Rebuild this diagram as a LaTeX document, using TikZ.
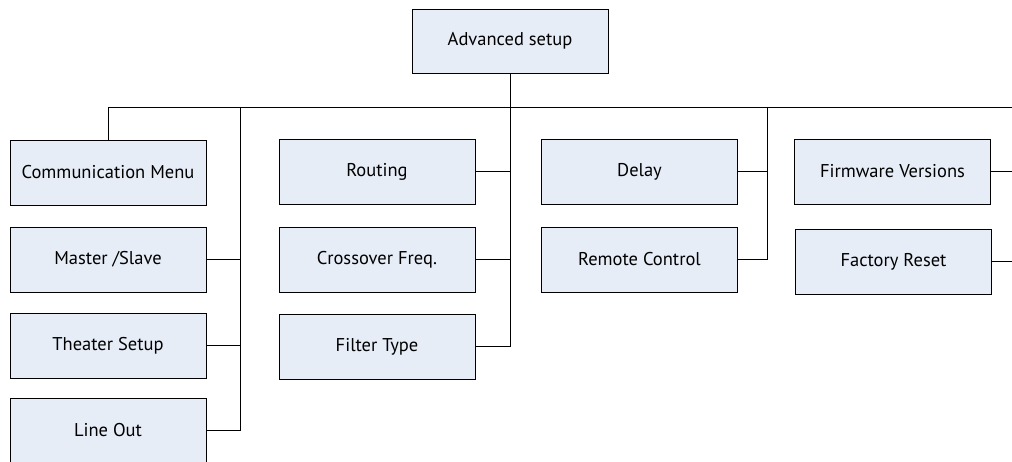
\documentclass[tikz,border=0pt]{standalone}
\usepackage{fontspec}
\setmainfont{PT Sans}
\usepackage{tikz}
\usetikzlibrary{positioning}
\definecolor{boxfill}{RGB}{230,237,247}

\begin{document}
\begin{tikzpicture}[x=1pt, y=-1pt]
		\tikzset{menubox/.style={shape = rectangle, draw, fill = boxfill, line width = 0.9pt,
				minimum width = 196pt, minimum height = 65pt, inner sep = 0pt, font = \fontsize{18.5}{22}\selectfont}}
		\tikzset{link/.style={line width = 0.9pt}}
		\clip (0, 0) rectangle (1012, 462);
		%vertices
		\node[menubox, minimum height = 64pt] (root) at (510, 41) {Advanced setup};
		\node[menubox] (comm) at (108, 172.5) {Communication Menu};
		\node[menubox] (master) at (108, 259.5) {Master /Slave};
		\node[menubox] (theater) at (108, 345.5) {Theater Setup};
		\node[menubox] (lineout) at (108, 430.5) {Line Out};
		\node[menubox] (routing) at (377, 171.5) {Routing};
		\node[menubox] (crossover) at (377, 259.5) {Crossover Freq.};
		\node[menubox] (filter) at (377, 346.5) {Filter Type};
		\node[menubox] (delay) at (639.5, 171.5) {Delay};
		\node[menubox] (remote) at (639.5, 259.5) {Remote Control};
		\node[menubox] (firmware) at (892.5, 171.5) {Firmware Versions};
		\node[menubox] (factory) at (893.5, 261.5) {Factory Reset};
		%bus
		\coordinate (busL) at (108, 107);
		\coordinate (busR) at (1012, 107);
		\coordinate (trunkA) at (240, 107);
		\coordinate (trunkC) at (767, 107);
		%edges
		\draw[link] (busL) -- (busR);
		\draw[link] (busL) -- (comm);
		\draw[link] (trunkA) |- (lineout.east);
		\draw[link] (master.east) -- (master -| trunkA);
		\draw[link] (theater.east) -- (theater -| trunkA);
		\draw[link] (root) |- (filter.east);
		\draw[link] (routing.east) -- (routing -| root);
		\draw[link] (crossover.east) -- (crossover -| root);
		\draw[link] (trunkC) |- (remote.east);
		\draw[link] (delay.east) -- (delay -| trunkC);
		\draw[link] (firmware.east) -- (firmware -| busR);
		\draw[link] (factory.east) -- (factory -| busR);
		\end{tikzpicture}
\end{document}
